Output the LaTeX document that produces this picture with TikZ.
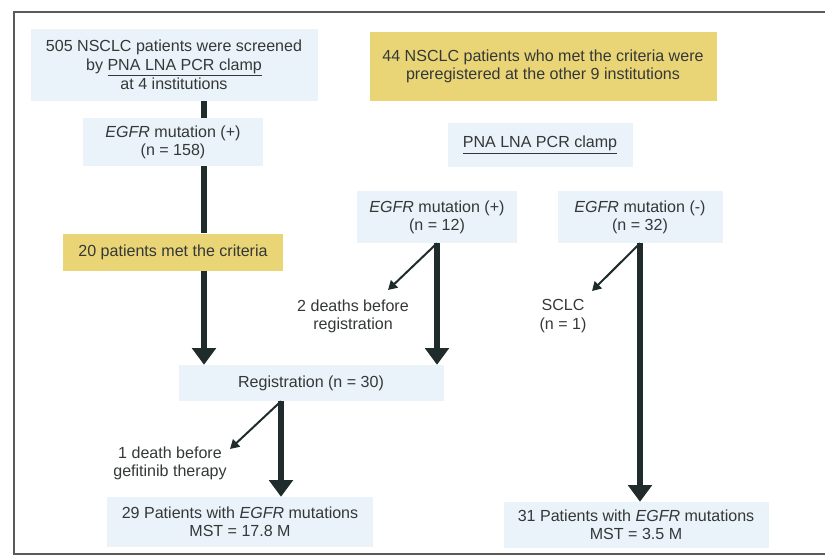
\documentclass[tikz,border=0pt]{standalone}
\usepackage{fontspec}
\setmainfont{Liberation Sans}
\usetikzlibrary{arrows.meta}
\newcommand{\pxu}{0.03cm}
\definecolor{paleblue}{RGB}{234,243,249}
\definecolor{paleyellow}{RGB}{234,213,118}
\definecolor{inkgray}{RGB}{52,56,56}
\definecolor{arrowdark}{RGB}{32,44,44}
\definecolor{framegray}{RGB}{90,90,90}

\begin{document}
\begin{tikzpicture}[x=0.03cm,y=-0.03cm]
  \tikzset{box/.style = {align=center,inner sep=0pt,text=inkgray,font=\fontsize{13.7}{15.5}\selectfont}}
  \tikzset{bluebox/.style = {box,fill=paleblue}}
  \tikzset{yellowbox/.style = {box,fill=paleyellow}}
  \tikzset{note/.style = {box}}
  \tikzset{trunk/.style = {draw=arrowdark,line width=0.17cm}}
  \tikzset{mainarrow/.style = {trunk,-{Triangle[width=0.7cm,length=0.5cm]}}}
  \tikzset{sidearrow/.style = {draw=arrowdark,line width=0.06cm,-{Triangle[width=0.3cm,length=0.27cm]}}}

	\useasboundingbox (0,0) rectangle (825,558);
	\draw[framegray,line width=1.2pt] (825,12) -- (14,12) -- (14,554) -- (825,554);

	\node[bluebox,minimum width=287*\pxu,minimum height=72*\pxu] (screen) at (174,65) {505 NSCLC patients were screened\\ by \underline{PNA LNA PCR clamp}\\[1pt] at 4 institutions};
	\node[bluebox,minimum width=180*\pxu,minimum height=48*\pxu] (egfrA) at (173,142) {\textit{EGFR} mutation (+)\\ (n = 158)};
	\node[yellowbox,minimum width=220*\pxu,minimum height=37*\pxu] (crit) at (173,252) {20 patients met the criteria};
	\node[bluebox,minimum width=265*\pxu,minimum height=36*\pxu] (reg) at (311,383) {Registration (n = 30)};
	\node[bluebox,minimum width=266*\pxu,minimum height=50*\pxu] (grpA) at (240,522) {29 Patients with \textit{EGFR} mutations\\ MST = 17.8 M};

	\node[yellowbox,minimum width=347*\pxu,minimum height=69*\pxu] (prereg) at (543,66) {44 NSCLC patients who met the criteria were\\ preregistered at the other 9 institutions};
	\node[bluebox,minimum width=185*\pxu,minimum height=44*\pxu] (clamp) at (540,145) {\underline{PNA LNA PCR clamp}};
	\node[bluebox,minimum width=160*\pxu,minimum height=52*\pxu] (egfrB) at (437,217) {\textit{EGFR} mutation (+)\\ (n = 12)};
	\node[bluebox,minimum width=165*\pxu,minimum height=52*\pxu] (egfrC) at (640,217) {\textit{EGFR} mutation (-)\\ (n = 32)};
	\node[bluebox,minimum width=265*\pxu,minimum height=46*\pxu] (grpB) at (636,525) {31 Patients with \textit{EGFR} mutations\\ MST = 3.5 M};

	\node[note] (deathB) at (353,316) {2 deaths before\\ registration};
	\node[note] (sclc) at (563,316) {SCLC\\ (n = 1)};
	\node[note] (deathA) at (170,463) {1 death before\\ gefitinib therapy};

	\coordinate (spineA) at (204,0);
	\coordinate (spineB) at (281,0);
	\coordinate (spineC) at (437,0);
	\coordinate (spineD) at (640,0);
	\coordinate (tipA) at (230,449);
	\coordinate (tipB) at (388,290);
	\coordinate (tipC) at (592,291);

	\draw[trunk] (spineA |- screen.south) -- (spineA |- egfrA.north);
	\draw[trunk] (spineA |- egfrA.south) -- (spineA |- crit.north);
	\draw[mainarrow] (spineA |- crit.south) -- (spineA |- reg.north);

	\draw[mainarrow] (spineC |- egfrB.south) -- (spineC |- reg.north);
	\draw[sidearrow] (spineC |- egfrB.south) -- (tipB);

	\draw[mainarrow] (spineD |- egfrC.south) -- (spineD |- grpB.north);
	\draw[sidearrow] (spineD |- egfrC.south) -- (tipC);

	\draw[mainarrow] (spineB |- reg.south) -- (spineB |- grpA.north);
	\draw[sidearrow] (spineB |- reg.south) -- (tipA);
\end{tikzpicture}
\end{document}
